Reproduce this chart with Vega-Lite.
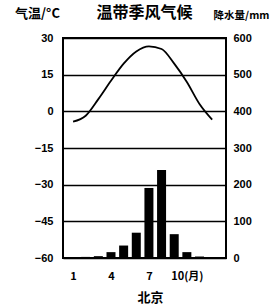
{
  "$schema": "https://vega.github.io/schema/vega-lite/v6.json",
  "width": 163,
  "height": 220,
  "autosize": {"type": "none"},
  "padding": {"left": 63, "top": 38, "right": 46, "bottom": 47},
  "background": "white",
  "title": {"text": "温带季风气候", "font": "Noto Sans CJK SC", "fontSize": 16, "fontWeight": "bold", "color": "black", "offset": 4, "dy": 18},
  "config": {
    "view": {"stroke": "black", "strokeWidth": 2},
    "axis": {"labelFont": "Liberation Sans", "labelFontWeight": "bold", "labelFontSize": 11, "labelColor": "black", "titleColor": "black", "domain": false, "ticks": false}
  },
  "data": {"values": [
    {"month": 1, "temp": -4.2, "precip": 2},
    {"month": 2, "temp": -1.8, "precip": 3},
    {"month": 3, "temp": 5, "precip": 5},
    {"month": 4, "temp": 12.5, "precip": 16},
    {"month": 5, "temp": 19.5, "precip": 34},
    {"month": 6, "temp": 24.5, "precip": 69},
    {"month": 7, "temp": 26.6, "precip": 191},
    {"month": 8, "temp": 25.5, "precip": 240},
    {"month": 9, "temp": 19.5, "precip": 65},
    {"month": 10, "temp": 12, "precip": 16},
    {"month": 11, "temp": 3, "precip": 4},
    {"month": 12, "temp": -3.4, "precip": 2}
  ]},
  "layer": [
    {
      "mark": {"type": "bar", "color": "black", "width": 9},
      "encoding": {
        "x": {"field": "month", "type": "quantitative", "scale": {"domain": [0.6, 12.7], "nice": false},
          "axis": {"values": [1, 4, 7, 10], "labelExpr": "datum.value == 10 ? '10(月)' : datum.value", "labelPadding": 12, "labelFont": "Noto Sans CJK SC", "grid": false,
            "title": "北京", "titleFont": "Noto Sans CJK SC", "titleFontSize": 13, "titleFontWeight": "bold", "titleX": 87, "titleY": 33}},
        "y": {"field": "precip", "type": "quantitative", "scale": {"domain": [0, 600], "nice": false},
          "axis": {"orient": "right", "values": [0, 100, 200, 300, 400, 500, 600], "grid": false, "labelPadding": 7,
            "title": "降水量/mm", "titleFont": "Noto Sans CJK SC", "titleFontSize": 10.5, "titleFontWeight": "bold", "titleAngle": 0, "titleAlign": "center", "titleBaseline": "middle", "titleX": 15, "titleY": -23}}
      }
    },
    {
      "mark": {"type": "line", "color": "black", "interpolate": "monotone", "strokeWidth": 1.8},
      "encoding": {
        "x": {"field": "month", "type": "quantitative", "scale": {"domain": [0.6, 12.7], "nice": false}},
        "y": {"field": "temp", "type": "quantitative", "scale": {"domain": [-60, 30], "nice": false},
          "axis": {"orient": "left", "values": [30, 15, 0, -15, -30, -45, -60], "grid": true, "gridColor": "black", "gridWidth": 1.6, "gridOpacity": 1, "labelPadding": 10,
            "title": "气温/°C", "titleFont": "Noto Sans CJK SC", "titleFontSize": 13, "titleFontWeight": "bold", "titleAngle": 0, "titleAlign": "center", "titleBaseline": "middle", "titleX": -26, "titleY": -25}}
      }
    }
  ],
  "resolve": {"scale": {"y": "independent"}}
}
